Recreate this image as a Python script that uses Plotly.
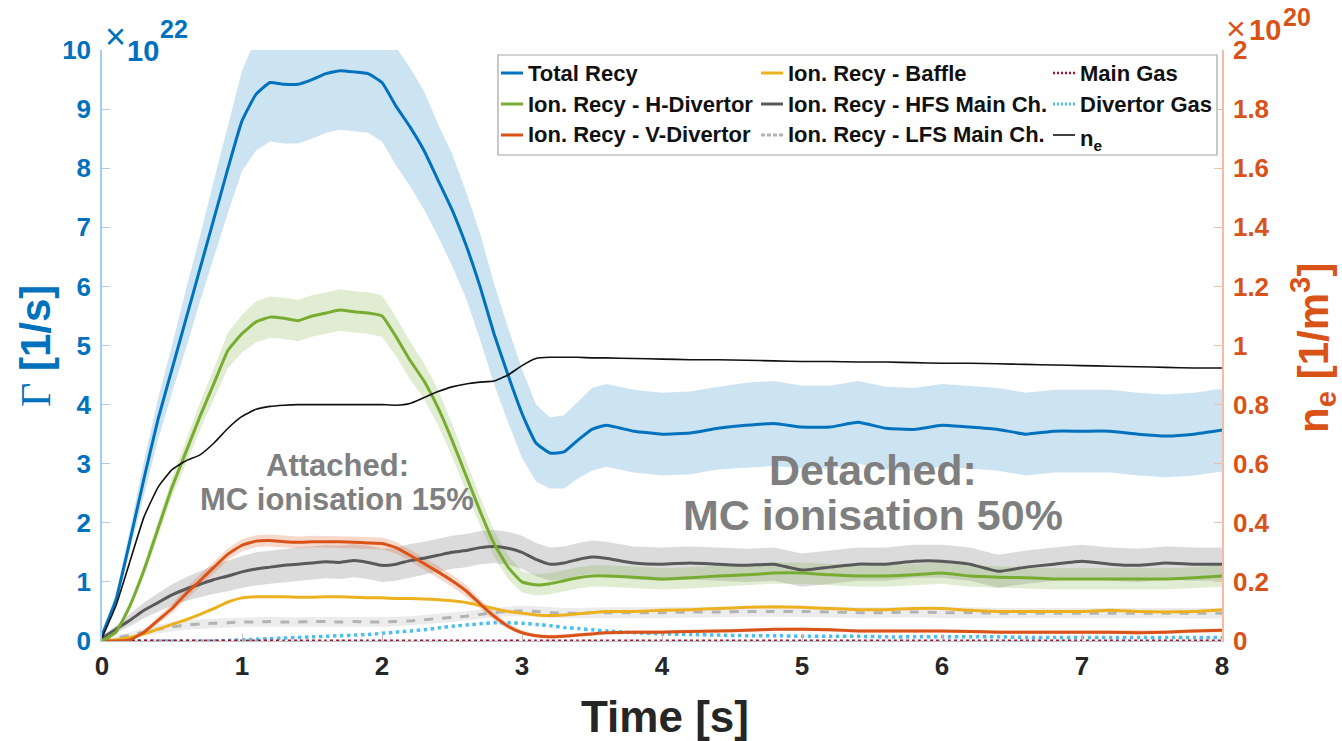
import plotly.graph_objects as go

# ---- time base [s] ----
time_s = [0.0, 0.1, 0.2, 0.3, 0.4, 0.5, 0.6, 0.7, 0.8, 0.9,
          1.0, 1.1, 1.2, 1.3, 1.4, 1.5, 1.6, 1.7, 1.8, 1.9,
          2.0, 2.1, 2.2, 2.3, 2.4, 2.5, 2.6, 2.7, 2.8, 2.9,
          3.0, 3.1, 3.2, 3.3, 3.4, 3.5, 3.6, 3.8, 4.0, 4.2,
          4.4, 4.6, 4.8, 5.0, 5.2, 5.4, 5.6, 5.8, 6.0, 6.2,
          6.4, 6.6, 6.8, 7.0, 7.2, 7.4, 7.6, 7.8, 8.0]

# ---- particle fluxes [1e22 1/s] ----
total_recy = [0.1, 0.7, 1.7, 2.75, 3.75, 4.6, 5.45, 6.3, 7.15, 8.0,
              8.8, 9.25, 9.45, 9.42, 9.42, 9.5, 9.6, 9.65, 9.63, 9.6,
              9.45, 9.05, 8.7, 8.3, 7.8, 7.3, 6.7, 6.0, 5.2, 4.5,
              3.85, 3.35, 3.18, 3.2, 3.4, 3.58, 3.65, 3.55, 3.5, 3.52,
              3.6, 3.65, 3.68, 3.62, 3.62, 3.7, 3.6, 3.58, 3.65, 3.62,
              3.58, 3.5, 3.55, 3.55, 3.55, 3.5, 3.47, 3.5, 3.57]
total_err = [0.05, 0.1, 0.2, 0.3, 0.35, 0.4, 0.5, 0.55, 0.65, 0.75,
             0.85, 0.95, 1.0, 1.0, 1.0, 1.0, 1.0, 1.0, 1.0, 1.0,
             1.0, 1.0, 1.0, 1.0, 0.95, 0.95, 0.9, 0.9, 0.85, 0.8,
             0.75, 0.65, 0.6, 0.62, 0.65, 0.7, 0.7, 0.7, 0.7, 0.7,
             0.7, 0.72, 0.72, 0.7, 0.7, 0.7, 0.7, 0.7, 0.7, 0.7,
             0.7, 0.7, 0.7, 0.7, 0.7, 0.7, 0.7, 0.7, 0.7]

h_divertor = [0.0, 0.15, 0.6, 1.2, 1.9, 2.6, 3.2, 3.8, 4.36, 4.92,
              5.2, 5.4, 5.48, 5.46, 5.42, 5.5, 5.55, 5.6, 5.57, 5.55,
              5.5, 5.15, 4.75, 4.4, 3.95, 3.4, 2.8, 2.2, 1.65, 1.25,
              1.0, 0.95, 0.97, 1.02, 1.07, 1.1, 1.1, 1.08, 1.05, 1.07,
              1.1, 1.12, 1.15, 1.15, 1.12, 1.1, 1.1, 1.12, 1.15, 1.1,
              1.08, 1.07, 1.05, 1.05, 1.05, 1.05, 1.05, 1.07, 1.1]
h_divertor_err = [0.0, 0.03, 0.06, 0.1, 0.13, 0.16, 0.2, 0.23, 0.26, 0.3,
                  0.32, 0.35, 0.35, 0.35, 0.35, 0.35, 0.35, 0.35, 0.35, 0.35,
                  0.35, 0.33, 0.32, 0.3, 0.3, 0.28, 0.26, 0.24, 0.22, 0.2,
                  0.18, 0.18, 0.18, 0.18, 0.18, 0.18, 0.18, 0.18, 0.18, 0.18,
                  0.18, 0.18, 0.18, 0.18, 0.18, 0.18, 0.18, 0.18, 0.18, 0.18,
                  0.18, 0.18, 0.18, 0.18, 0.18, 0.18, 0.18, 0.18, 0.18]

v_divertor = [0.0, 0.0, 0.02, 0.15, 0.35, 0.55, 0.8, 1.02, 1.25, 1.47,
              1.62, 1.69, 1.7, 1.68, 1.67, 1.68, 1.68, 1.68, 1.67, 1.66,
              1.65, 1.58, 1.45, 1.31, 1.17, 1.02, 0.85, 0.63, 0.42, 0.25,
              0.14, 0.09, 0.07, 0.08, 0.1, 0.12, 0.14, 0.15, 0.15, 0.16,
              0.17, 0.18, 0.2, 0.2, 0.19, 0.17, 0.17, 0.17, 0.17, 0.16,
              0.15, 0.15, 0.15, 0.15, 0.15, 0.14, 0.15, 0.17, 0.18]
v_divertor_err = [0.0, 0.0, 0.02, 0.04, 0.06, 0.08, 0.1, 0.1, 0.1, 0.1,
                  0.1, 0.1, 0.1, 0.1, 0.1, 0.1, 0.1, 0.1, 0.1, 0.1,
                  0.1, 0.1, 0.1, 0.1, 0.1, 0.1, 0.1, 0.08, 0.07, 0.05,
                  0.04, 0.03, 0.03, 0.03, 0.03, 0.03, 0.03, 0.03, 0.03, 0.03,
                  0.03, 0.03, 0.03, 0.03, 0.03, 0.03, 0.03, 0.03, 0.03, 0.03,
                  0.03, 0.03, 0.03, 0.03, 0.03, 0.03, 0.03, 0.03, 0.03]

baffle = [0.0, 0.02, 0.06, 0.12, 0.2, 0.28, 0.36, 0.45, 0.55, 0.66,
          0.73, 0.75, 0.75, 0.75, 0.74, 0.74, 0.75, 0.75, 0.74, 0.73,
          0.73, 0.72, 0.72, 0.71, 0.7, 0.68, 0.65, 0.6, 0.55, 0.5,
          0.47, 0.44, 0.43, 0.44, 0.46, 0.48, 0.5, 0.5, 0.52, 0.53,
          0.55, 0.57, 0.58, 0.57, 0.55, 0.53, 0.53, 0.55, 0.55, 0.52,
          0.5, 0.5, 0.5, 0.5, 0.52, 0.5, 0.49, 0.5, 0.53]

hfs_main = [0.05, 0.2, 0.35, 0.52, 0.65, 0.78, 0.88, 0.96, 1.04, 1.1,
            1.17, 1.22, 1.25, 1.28, 1.3, 1.32, 1.34, 1.33, 1.36, 1.33,
            1.28, 1.3, 1.36, 1.4, 1.45, 1.5, 1.53, 1.58, 1.6, 1.57,
            1.5, 1.38, 1.3, 1.32, 1.38, 1.42, 1.4, 1.32, 1.3, 1.32,
            1.3, 1.28, 1.3, 1.2, 1.25, 1.3, 1.3, 1.35, 1.35, 1.3,
            1.18, 1.25, 1.3, 1.35, 1.3, 1.28, 1.32, 1.3, 1.3]
hfs_main_err = [0.02, 0.06, 0.1, 0.13, 0.16, 0.18, 0.2, 0.22, 0.24, 0.26,
                0.27, 0.28, 0.28, 0.28, 0.28, 0.28, 0.28, 0.28, 0.28, 0.28,
                0.28, 0.28, 0.28, 0.28, 0.28, 0.28, 0.28, 0.28, 0.28, 0.28,
                0.28, 0.28, 0.28, 0.28, 0.28, 0.28, 0.28, 0.28, 0.28, 0.28,
                0.28, 0.28, 0.28, 0.28, 0.28, 0.28, 0.28, 0.28, 0.28, 0.28,
                0.28, 0.28, 0.28, 0.28, 0.28, 0.28, 0.28, 0.28, 0.28]

lfs_main = [0.0, 0.05, 0.1, 0.15, 0.2, 0.24, 0.27, 0.29, 0.3, 0.31,
            0.32, 0.32, 0.33, 0.32, 0.32, 0.33, 0.33, 0.32, 0.33, 0.32,
            0.32, 0.33, 0.34, 0.36, 0.38, 0.4, 0.42, 0.45, 0.48, 0.5,
            0.51, 0.5, 0.48, 0.47, 0.47, 0.48, 0.48, 0.48, 0.48, 0.49,
            0.49, 0.5, 0.5, 0.5, 0.49, 0.48, 0.48, 0.49, 0.48, 0.48,
            0.47, 0.47, 0.47, 0.47, 0.47, 0.47, 0.47, 0.47, 0.47]
lfs_main_err = [0.0, 0.03, 0.05, 0.07, 0.08, 0.08, 0.08, 0.08, 0.08, 0.08,
                0.08, 0.08, 0.08, 0.08, 0.08, 0.08, 0.08, 0.08, 0.08, 0.08,
                0.08, 0.08, 0.08, 0.08, 0.08, 0.08, 0.08, 0.08, 0.08, 0.08,
                0.09, 0.09, 0.09, 0.09, 0.09, 0.09, 0.09, 0.09, 0.09, 0.09,
                0.09, 0.09, 0.09, 0.09, 0.09, 0.09, 0.09, 0.09, 0.09, 0.09,
                0.09, 0.09, 0.09, 0.09, 0.09, 0.09, 0.09, 0.09, 0.09]

main_gas = [0.0] + [0.01] * 58

divertor_gas = [0.0, 0.0, 0.0, 0.0, 0.0, 0.0, 0.0, 0.0, 0.0, 0.01,
                0.02, 0.03, 0.04, 0.05, 0.06, 0.07, 0.08, 0.09, 0.1, 0.11,
                0.13, 0.15, 0.17, 0.19, 0.22, 0.25, 0.27, 0.29, 0.31, 0.31,
                0.3, 0.28, 0.26, 0.23, 0.21, 0.19, 0.17, 0.14, 0.12, 0.11,
                0.1, 0.09, 0.09, 0.08, 0.08, 0.08, 0.07, 0.07, 0.07, 0.07,
                0.07, 0.06, 0.06, 0.06, 0.06, 0.06, 0.06, 0.06, 0.06]

# ---- line-averaged density [1e20 1/m^3] ----
n_e = [0.01, 0.12, 0.27, 0.42, 0.52, 0.58, 0.61, 0.63, 0.67, 0.72,
       0.76, 0.784, 0.794, 0.798, 0.8, 0.8, 0.8, 0.8, 0.8, 0.8,
       0.8, 0.798, 0.804, 0.824, 0.844, 0.86, 0.87, 0.876, 0.88, 0.9,
       0.932, 0.956, 0.96, 0.96, 0.96, 0.958, 0.958, 0.956, 0.954, 0.952,
       0.952, 0.95, 0.948, 0.946, 0.946, 0.944, 0.944, 0.942, 0.94, 0.94,
       0.938, 0.936, 0.934, 0.932, 0.93, 0.928, 0.926, 0.924, 0.924]

for arr in (total_recy, total_err, h_divertor, h_divertor_err, v_divertor,
            v_divertor_err, baffle, hfs_main, hfs_main_err, lfs_main,
            lfs_main_err, main_gas, divertor_gas, n_e):
    assert len(arr) == len(time_s), len(arr)

BLUE = "#0072BD"
ORANGE = "#D95319"
GREEN = "#77AC30"
YELLOW = "#EDB120"
DARKGRAY = "#595959"
LIGHTGRAY = "#B3B3B3"
SKY = "#4DBEEE"
WINE = "#A2142F"
FONT = "Liberation Sans, Arial, sans-serif"

W, H = 1342, 741
ML, MR, MT, MB = 102, 120, 50, 100
PW, PH = W - ML - MR, H - MT - MB


def px(x):
    """pixel column -> paper x"""
    return (x - ML) / PW


def py(y):
    """pixel row -> paper y"""
    return (H - MB - y) / PH


fig = go.Figure()


def band(values, errors, fillcolor):
    upper = [v + e for v, e in zip(values, errors)]
    lower = [max(v - e, 0.0) for v, e in zip(values, errors)]
    fig.add_trace(go.Scatter(
        x=time_s + time_s[::-1], y=upper + lower[::-1],
        fill="toself", fillcolor=fillcolor, mode="lines",
        line=dict(width=0), hoverinfo="skip", showlegend=False))


band(lfs_main, lfs_main_err, "rgba(170,170,170,0.22)")
band(hfs_main, hfs_main_err, "rgba(110,110,110,0.25)")
band(v_divertor, v_divertor_err, "rgba(217,83,25,0.22)")
band(h_divertor, h_divertor_err, "rgba(119,172,48,0.22)")
band(total_recy, total_err, "rgba(0,114,189,0.2)")


def curve(y, name, color, width=3, dash="solid", yaxis="y"):
    fig.add_trace(go.Scatter(
        x=time_s, y=y, name=name, mode="lines", yaxis=yaxis,
        line=dict(color=color, width=width, dash=dash, shape="spline",
                  smoothing=0.4),
        showlegend=False))


curve(divertor_gas, "Divertor Gas", SKY, 3.5, "dot")
curve(main_gas, "Main Gas", WINE, 2, "dot")
curve(lfs_main, "Ion. Recy - LFS Main Ch.", LIGHTGRAY, 3, "dash")
curve(baffle, "Ion. Recy - Baffle", YELLOW, 3)
curve(hfs_main, "Ion. Recy - HFS Main Ch.", DARKGRAY, 3)
curve(v_divertor, "Ion. Recy - V-Divertor", ORANGE, 3)
curve(h_divertor, "Ion. Recy - H-Divertor", GREEN, 3)
curve(total_recy, "Total Recy", BLUE, 3)
curve(n_e, "n_e", "#111111", 1.6, "solid", "y2")

fig.update_layout(
    width=W, height=H,
    margin=dict(l=ML, r=MR, t=MT, b=MB),
    paper_bgcolor="white", plot_bgcolor="white",
    showlegend=False,
    xaxis=dict(
        range=[0, 8], dtick=1, tick0=0, showgrid=False, zeroline=False,
        showline=True, linecolor="#BFBFBF", linewidth=1,
        ticks="inside", ticklen=7, tickcolor="#BFBFBF",
        ticklabelstandoff=2,
        tickfont=dict(family=FONT, size=26, color="#262626", weight="bold"),
    ),
    yaxis=dict(
        range=[0, 10], dtick=1, tick0=0, showgrid=False, zeroline=False,
        showline=True, linecolor="#A6CDEA", linewidth=1.5,
        ticks="inside", ticklen=8, tickcolor="#A6CDEA",
        ticklabelstandoff=4,
        tickfont=dict(family=FONT, size=26, color=BLUE, weight="bold"),
    ),
    yaxis2=dict(
        range=[0, 2], dtick=0.2, tick0=0, overlaying="y", side="right",
        showgrid=False, zeroline=False,
        showline=True, linecolor="#F4BCA4", linewidth=1.5,
        ticks="inside", ticklen=8, tickcolor="#F4BCA4",
        ticklabelstandoff=4,
        tickfont=dict(family=FONT, size=26, color=ORANGE, weight="bold"),
    ),
)

# ---- legend: three columns inside a framed box ----
fig.add_shape(type="rect", xref="paper", yref="paper",
              x0=px(498), x1=px(1217), y0=py(155), y1=py(55),
              line=dict(color="#A6A6A6", width=1.2), fillcolor="white",
              layer="above")

legend_rows = [73, 104, 135]
legend_cols = [501, 761, 1053]
legend_entries = [
    (0, 0, "Total Recy", BLUE, "solid", 3),
    (0, 1, "Ion. Recy - H-Divertor", GREEN, "solid", 3),
    (0, 2, "Ion. Recy - V-Divertor", ORANGE, "solid", 3),
    (1, 0, "Ion. Recy - Baffle", YELLOW, "solid", 3),
    (1, 1, "Ion. Recy - HFS Main Ch.", DARKGRAY, "solid", 3),
    (1, 2, "Ion. Recy - LFS Main Ch.", LIGHTGRAY, "dash", 3),
    (2, 0, "Main Gas", WINE, "dot", 2.5),
    (2, 1, "Divertor Gas", SKY, "dot", 3),
    (2, 2, "n<sub>e</sub>", "#111111", "solid", 1.6),
]
for col, row, label, color, dash, width in legend_entries:
    x0 = legend_cols[col]
    yc = legend_rows[row]
    fig.add_shape(type="line", xref="paper", yref="paper",
                  x0=px(x0), x1=px(x0 + 22), y0=py(yc), y1=py(yc),
                  line=dict(color=color, width=width,
                            dash="4px,2px" if dash == "dash" else
                            ("2px,2px" if dash == "dot" else "solid")),
                  layer="above")
    fig.add_annotation(
        xref="paper", yref="paper", x=px(x0 + 25), y=py(yc),
        xanchor="left", yanchor="middle", showarrow=False, text=label,
        yshift=-5 if "sub" in label else 0,
        font=dict(family=FONT, size=22, color="#111111", weight="bold"))

# ---- axis titles ----
fig.add_annotation(
    xref="paper", yref="paper", x=px(35), y=py(346), xanchor="center", yanchor="middle",
    textangle=-90, showarrow=False,
    text="<span style='font-family:Liberation Serif;font-weight:normal'>Γ</span> [1/s]",
    font=dict(family=FONT, size=42, color=BLUE, weight="bold"))
fig.add_annotation(
    xref="paper", yref="paper", x=px(1312), y=py(348), xanchor="center", yanchor="middle",
    textangle=-90, showarrow=False,
    text="n<sub>e</sub> [1/m<sup>3</sup>]",
    font=dict(family=FONT, size=42, color=ORANGE, weight="bold"))
fig.add_annotation(
    xref="paper", yref="paper", x=px(665), y=py(716), xanchor="center", yanchor="middle",
    showarrow=False, text="Time [s]",
    font=dict(family=FONT, size=44, color="#262626", weight="bold"))

# ---- axis exponent labels ----
fig.add_annotation(xref="paper", yref="paper", x=px(115), y=py(36),
                   xanchor="center", yanchor="middle", showarrow=False, text="×",
                   font=dict(family=FONT, size=36, color=BLUE))
fig.add_annotation(xref="paper", yref="paper", x=px(125), y=py(51),
                   xanchor="left", yanchor="middle", showarrow=False, text="10",
                   font=dict(family=FONT, size=29, color=BLUE, weight="bold"))
fig.add_annotation(xref="paper", yref="paper", x=px(158), y=py(29),
                   xanchor="left", yanchor="middle", showarrow=False, text="22",
                   font=dict(family=FONT, size=25, color=BLUE, weight="bold"))
fig.add_annotation(xref="paper", yref="paper", x=px(1236), y=py(28),
                   xanchor="center", yanchor="middle", showarrow=False, text="×",
                   font=dict(family=FONT, size=34, color=ORANGE))
fig.add_annotation(xref="paper", yref="paper", x=px(1247), y=py(30),
                   xanchor="left", yanchor="middle", showarrow=False, text="10",
                   font=dict(family=FONT, size=29, color=ORANGE, weight="bold"))
fig.add_annotation(xref="paper", yref="paper", x=px(1281), y=py(17),
                   xanchor="left", yanchor="middle", showarrow=False, text="20",
                   font=dict(family=FONT, size=25, color=ORANGE, weight="bold"))

# ---- regime labels ----
for txt, xv, yv, size in [("Attached:", 1.68, 2.97, 31),
                          ("MC ionisation 15%", 1.68, 2.39, 31),
                          ("Detached:", 5.51, 2.9, 43),
                          ("MC ionisation 50%", 5.51, 2.13, 43)]:
    fig.add_annotation(x=xv, y=yv, xanchor="center", yanchor="middle",
                       showarrow=False, text=txt,
                       font=dict(family=FONT, size=size, color="#7F7F7F",
                                 weight="bold"))

fig.write_html("out.html")
